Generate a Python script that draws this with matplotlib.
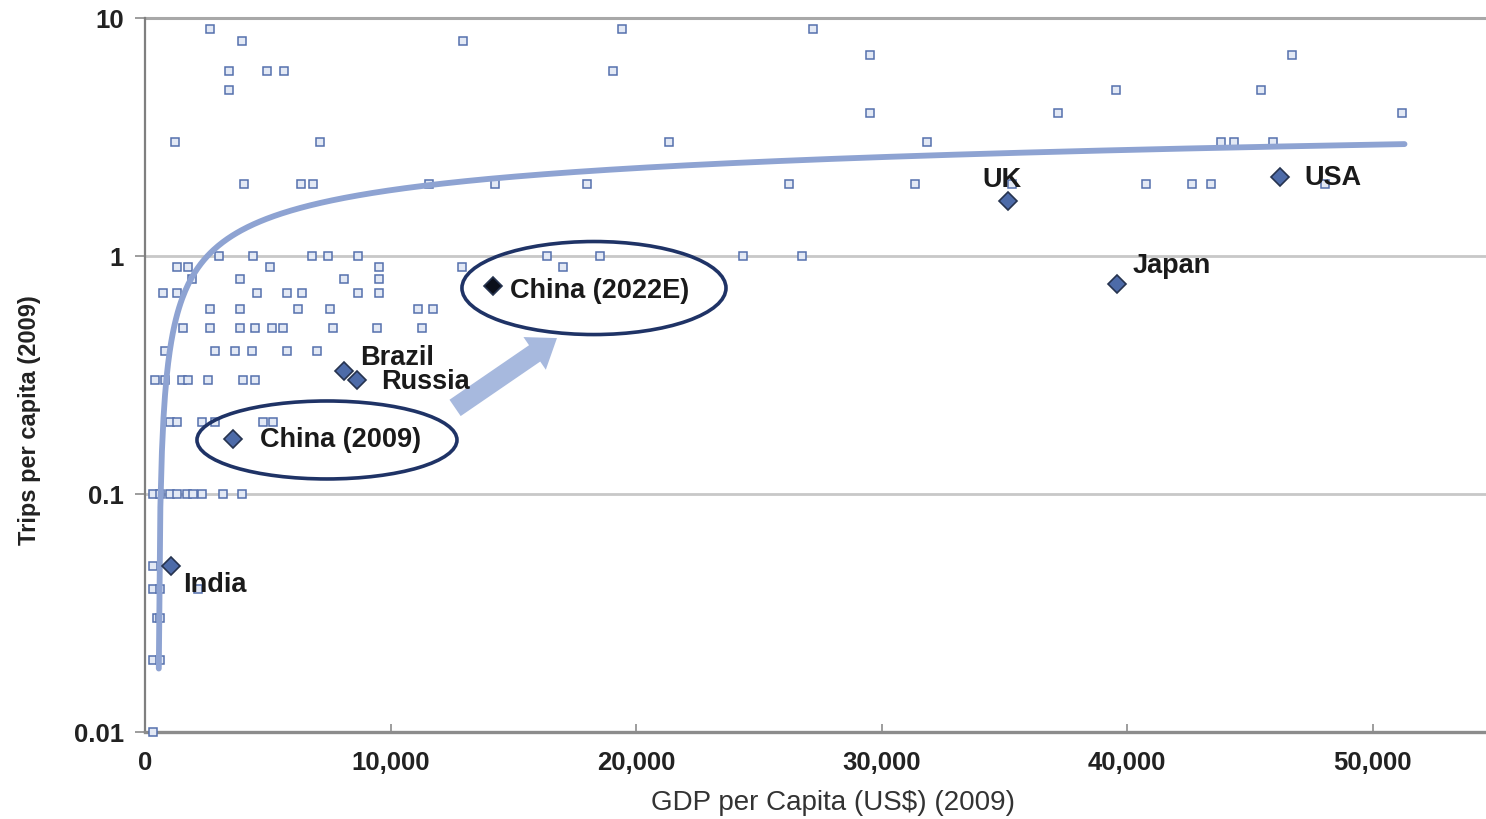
import matplotlib
matplotlib.use("Agg")
import matplotlib.pyplot as plt
import numpy as np
from matplotlib.patches import Ellipse
from matplotlib.ticker import FixedLocator, FixedFormatter

# ---- data -------------------------------------------------------------
other_gdp = [2650, 3940, 12950, 19420, 27190, 29550, 46730,
             3435, 4955, 5660, 19050,
             3435, 39540, 45460,
             29550, 37190, 51190,
             1222, 7130, 21360, 31860, 43830, 44350, 45930,
             4045, 6340, 6860, 11580, 14260, 17990, 26240, 31360, 35330, 40780, 42630, 43420, 48080,
             3014, 4410, 6790, 7470, 8690, 16360, 18530, 24350, 26750,
             1290, 1765, 5090, 9550, 12900, 17040,
             1900, 3870, 8110, 9550,
             750, 1290, 4550, 5770, 6380, 8690, 9550,
             2650, 3870, 6250, 7540, 11130, 11740,
             1560, 2650, 3870, 4480, 5160, 5630, 7670, 9440, 11270,
             815, 2850, 3670, 4350, 5770, 6990,
             410, 815, 1490, 1765, 2580, 4000, 4480,
             1020, 1290, 2310, 2850, 4820, 5230,
             340, 610, 1020, 1290, 1700, 1960, 2310, 3190, 3940,
             340, 340, 610, 2170, 480, 610, 340, 610, 340]
other_trips = [9, 8, 8, 9, 9, 7, 7,
               6, 6, 6, 6,
               5, 5, 5,
               4, 4, 4,
               3, 3, 3, 3, 3, 3, 3,
               2, 2, 2, 2, 2, 2, 2, 2, 2, 2, 2, 2, 2,
               1, 1, 1, 1, 1, 1, 1, 1, 1,
               0.9, 0.9, 0.9, 0.9, 0.9, 0.9,
               0.8, 0.8, 0.8, 0.8,
               0.7, 0.7, 0.7, 0.7, 0.7, 0.7, 0.7,
               0.6, 0.6, 0.6, 0.6, 0.6, 0.6,
               0.5, 0.5, 0.5, 0.5, 0.5, 0.5, 0.5, 0.5, 0.5,
               0.4, 0.4, 0.4, 0.4, 0.4, 0.4,
               0.3, 0.3, 0.3, 0.3, 0.3, 0.3, 0.3,
               0.2, 0.2, 0.2, 0.2, 0.2, 0.2,
               0.1, 0.1, 0.1, 0.1, 0.1, 0.1, 0.1, 0.1, 0.1,
               0.05, 0.04, 0.04, 0.04, 0.03, 0.03, 0.02, 0.02, 0.01]

highlight_names = ["India", "China (2009)", "Brazil", "Russia", "China (2022E)", "UK", "Japan", "USA"]
highlight_gdp = [1060, 3585, 8110, 8620, 14170, 35150, 39590, 46230]
highlight_trips = [0.05, 0.17, 0.33, 0.30, 0.75, 1.70, 0.76, 2.15]

# logarithmic trend line (Excel-style): trips = a*ln(gdp) + b
trend_a = 0.65
trend_b = -4.097
trend_gdp_start = 562
trend_gdp_end = 51300

x_ticks = [0, 10000, 20000, 30000, 40000, 50000]
x_tick_labels = ["0", "10,000", "20,000", "30,000", "40,000", "50,000"]
y_ticks = [0.01, 0.1, 1, 10]
y_tick_labels = ["0.01", "0.1", "1", "10"]

# ---- figure -----------------------------------------------------------
W, H = 1486, 819
plt.rcParams["font.family"] = ["Liberation Sans", "DejaVu Sans"]
fig = plt.figure(figsize=(W / 100, H / 100), dpi=100)
ax = fig.add_axes([145 / W, (H - 732) / H, 1341 / W, 714 / H])

ax.set_yscale("log")
ax.set_xlim(0, 54620)
ax.set_ylim(0.01, 10)

# grid lines
for gy in [0.1, 1]:
    ax.axhline(gy, color="#c8c8c8", lw=2, zorder=0)
ax.axhline(10, color="#a8a8a8", lw=2.2, zorder=0, clip_on=False)

for s in ["top", "right"]:
    ax.spines[s].set_visible(False)
ax.spines["left"].set_color("#7f7f7f")
ax.spines["left"].set_linewidth(1.6)
ax.spines["bottom"].set_color("#8c8c8c")
ax.spines["bottom"].set_linewidth(2.4)

ax.xaxis.set_major_locator(FixedLocator(x_ticks))
ax.xaxis.set_major_formatter(FixedFormatter(x_tick_labels))
ax.yaxis.set_major_locator(FixedLocator(y_ticks))
ax.yaxis.set_major_formatter(FixedFormatter(y_tick_labels))
ax.yaxis.set_minor_locator(FixedLocator([]))
ax.tick_params(axis="both", which="major", length=7, width=1.2, color="#8c8c8c",
               labelsize=18.5, labelcolor="#222222")
ax.tick_params(axis="x", direction="in", length=6, pad=14)
ax.tick_params(axis="y", pad=8)
for lab in ax.get_xticklabels() + ax.get_yticklabels():
    lab.set_fontweight("bold")

ax.set_xlabel("GDP per Capita (US$) (2009)", fontsize=20, color="#333333", va="center")
ax.xaxis.set_label_coords(0.513, -0.100)
ax.set_ylabel("Trips per capita (2009)", fontsize=17, fontweight="bold", color="#222222",
              va="center")
ax.yaxis.set_label_coords(-0.0858, 0.437)

# other countries
ax.plot(other_gdp, other_trips, ls="none", marker="s", ms=5.3, mfc="#e3e9f5",
        mec="#5570ad", mew=1.1, zorder=3, clip_on=False)

# trend line
tx = np.linspace(trend_gdp_start, trend_gdp_end, 800)
ty = trend_a * np.log(tx) + trend_b
ax.plot(tx, ty, color="#8ea3d2", lw=4.2, solid_capstyle="round", zorder=4)

# highlighted countries
for name, gx, gy in zip(highlight_names, highlight_gdp, highlight_trips):
    fc = "#0b0f1a" if name == "China (2022E)" else "#4d6ba8"
    ax.plot([gx], [gy], ls="none", marker="D", ms=9.5, mfc=fc, mec="#26334f",
            mew=1.2, zorder=6)

label_offsets = {"India": (12, -19), "China (2009)": (27, -1), "Brazil": (16, 13),
                 "Russia": (24, -2), "China (2022E)": (17, -5), "UK": (-26, 21),
                 "Japan": (16, 18), "USA": (24, -1)}
for name, gx, gy in zip(highlight_names, highlight_gdp, highlight_trips):
    dx, dy = label_offsets[name]
    ax.annotate(name, xy=(gx, gy), xytext=(dx, dy), textcoords="offset pixels",
                ha="left", va="center", fontsize=19.5, fontweight="bold",
                color="#1a1a1a", zorder=8)

# ellipses
ax.add_patch(Ellipse((0.1357, 0.409), 0.1939, 0.1092, transform=ax.transAxes,
                     fill=False, ec="#1f3366", lw=2.6, zorder=7))
ax.add_patch(Ellipse((0.3348, 0.6218), 0.1969, 0.1303, transform=ax.transAxes,
                     fill=False, ec="#1f3366", lw=2.6, zorder=7))

# arrow
ax.annotate("", xy=(16780, 0.452), xytext=(12630, 0.23),
            arrowprops=dict(arrowstyle="simple,head_width=1.9,head_length=1.3,tail_width=0.95",
                            fc="#a7b9de", ec="none", shrinkA=0, shrinkB=0, mutation_scale=15),
            zorder=5)

fig.savefig("out.png", dpi=100, facecolor="white")
